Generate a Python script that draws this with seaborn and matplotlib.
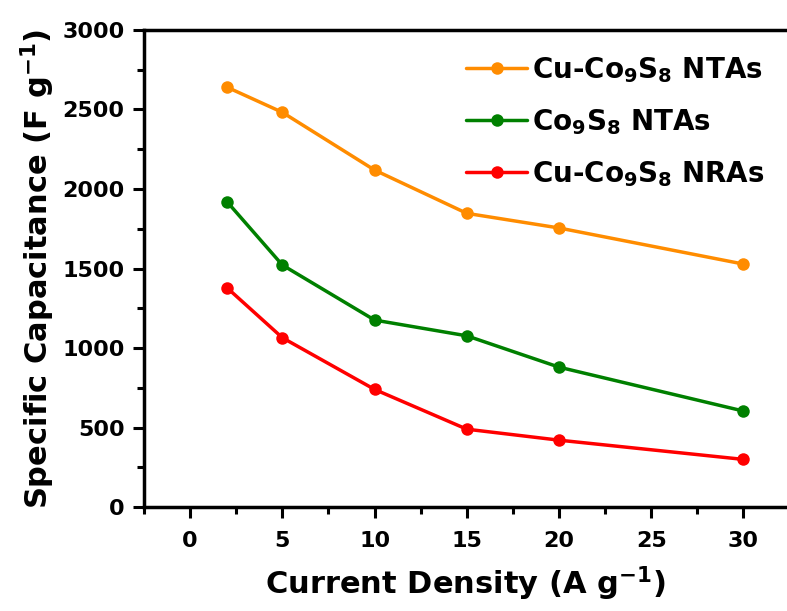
import matplotlib
matplotlib.use("Agg")
import matplotlib.pyplot as plt
import seaborn as sns
import pandas as pd
from matplotlib.ticker import MultipleLocator

current_density = [2, 5, 10, 15, 20, 30]
cu_co9s8_ntas = [2640, 2482, 2119, 1847, 1755, 1528]
co9s8_ntas = [1920, 1522, 1176, 1077, 880, 604]
cu_co9s8_nras = [1379, 1065, 740, 490, 421, 300]

labels = ["Cu-Co$_9$S$_8$ NTAs", "Co$_9$S$_8$ NTAs", "Cu-Co$_9$S$_8$ NRAs"]
colors = ["#FF8C00", "#008000", "#FF0000"]

rows = []
for lab, vals in zip(labels, [cu_co9s8_ntas, co9s8_ntas, cu_co9s8_nras]):
    for x, v in zip(current_density, vals):
        rows.append({"x": x, "y": v, "series": lab})
df = pd.DataFrame(rows)

sns.set_theme(style="ticks")
plt.rcParams["font.family"] = ["DejaVu Sans"]
plt.rcParams["font.weight"] = "bold"
plt.rcParams["text.color"] = "black"
plt.rcParams["axes.labelcolor"] = "black"
plt.rcParams["xtick.color"] = "black"
plt.rcParams["ytick.color"] = "black"
plt.rcParams["mathtext.fontset"] = "custom"
plt.rcParams["mathtext.rm"] = "DejaVu Sans:bold"
plt.rcParams["mathtext.it"] = "DejaVu Sans:bold"
plt.rcParams["mathtext.bf"] = "DejaVu Sans:bold"
plt.rcParams["mathtext.default"] = "rm"

fig = plt.figure(figsize=(7.87, 6.11), dpi=100)
ax = fig.add_axes([0.183, 0.170, 0.817, 0.781])

sns.lineplot(data=df, x="x", y="y", hue="series", hue_order=labels,
             palette=colors, marker="o", markersize=9, linewidth=2.5,
             markeredgewidth=0, ax=ax)

ax.set_xlim(-2.5, 32.36)
ax.set_ylim(0, 3000)
ax.xaxis.set_minor_locator(MultipleLocator(2.5))
ax.yaxis.set_major_locator(MultipleLocator(500))
ax.yaxis.set_minor_locator(MultipleLocator(250))
ax.set_xticks([0, 5, 10, 15, 20, 25, 30])

for side in ["left", "bottom", "top"]:
    ax.spines[side].set_linewidth(2.5)
    ax.spines[side].set_color("black")
ax.spines["right"].set_visible(False)

ax.tick_params(axis="both", which="major", direction="out", length=8, width=2.2,
               labelsize=16, labelcolor="black", pad=6)
ax.tick_params(axis="both", which="minor", direction="out", length=5, width=2.2)
ax.tick_params(top=False, right=False, which="both")
ax.tick_params(axis="x", which="major", pad=9)
for t in ax.get_xticklabels() + ax.get_yticklabels():
    t.set_fontweight("bold")

ax.set_xlabel("Current Density (A g$^{-1}$)", fontsize=22, fontweight="bold", labelpad=10)
ax.set_ylabel("Specific Capacitance (F g$^{-1}$)", fontsize=22, fontweight="bold", labelpad=4)

leg = ax.legend(loc="upper right", frameon=False, fontsize=20, handlelength=2.2,
                labelspacing=0.8, handletextpad=0.15, borderaxespad=0.2,
                bbox_to_anchor=(0.99, 0.983))
for t in leg.get_texts():
    t.set_fontweight("bold")

fig.savefig("out.png", dpi=100)
